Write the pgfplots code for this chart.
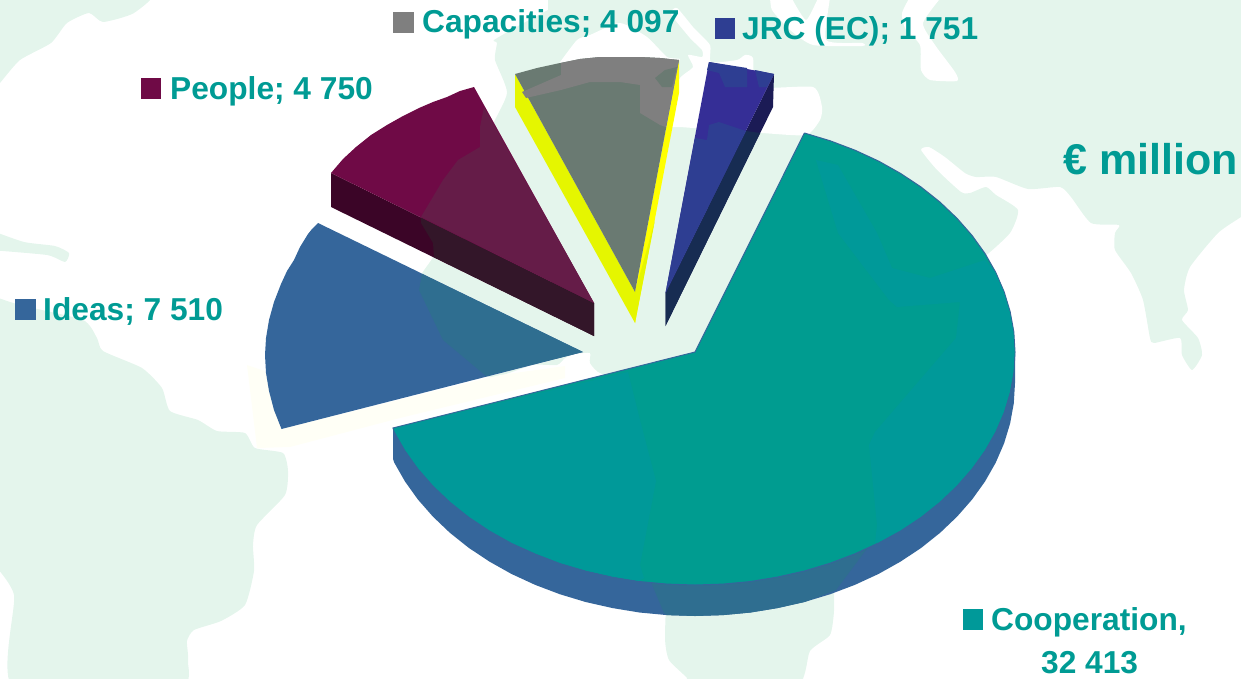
\documentclass[border=0pt]{standalone}
\usepackage{pgfplots}
\pgfplotsset{compat=1.18}
\usepackage{fontspec}
\setmainfont{Liberation Sans}
\definecolor{land}{HTML}{E4F5EC}
\definecolor{txt}{HTML}{009B94}
\definecolor{cream}{HTML}{FFFFF6}
\definecolor{teal}{HTML}{009C90}
\definecolor{tealsea}{HTML}{009999}
\definecolor{wallb}{HTML}{35669B}
\definecolor{walll}{HTML}{2F6E90}
\definecolor{mag}{HTML}{6F0A46}
\definecolor{magl}{HTML}{651C48}
\definecolor{magw}{HTML}{3B0527}
\definecolor{magwl}{HTML}{331629}
\definecolor{gry}{HTML}{7F7F7F}
\definecolor{gryl}{HTML}{6A7A72}
\definecolor{yel}{HTML}{E5F600}
\definecolor{yel2}{HTML}{FFFF00}
\definecolor{jrc}{HTML}{352E96}
\definecolor{jrcl}{HTML}{2E3E92}
\definecolor{jrcw}{HTML}{1B1B55}
\definecolor{jrcwl}{HTML}{172C52}
\pgfplotsset{
  poly/.style={fill=#1,draw=none,mark=none,forget plot,sharp plot},
  map/.style={fill=#1,draw=none,mark=none,forget plot,smooth,tension=0.35}
}
\tikzset{lab/.style={anchor=base west,inner sep=0pt,text=txt,font=\fontsize{31.7}{32}\selectfont\bfseries}}
\begin{document}
\begin{tikzpicture}
\begin{axis}[at={(0,0)},anchor=south west,scale only axis,width=1241pt,height=678pt,
  xmin=0,xmax=1241,ymin=0,ymax=678,y dir=reverse,hide axis]
% map
\addplot[map=land] coordinates {(548,0)(900,-10)(1251,-10)(1251,210)(1241,217)(1218,233)(1190,267)(1184,290)(1188,310)(1182,320)(1198,338)(1202,355)(1192,370)(1182,355)(1180,338)(1154,343)(1150,338)(1143,300)(1131,273)(1115,250)(1115,233)(1119,225)(1091,223)(1071,197)(1060,187)(1028,189)(996,177)(976,177)(965,173)(945,157)(929,147)(921,150)(937,170)(961,192)(970,193)(986,187)(996,195)(1018,210)(1010,233)(984,257)(960,270)(800,370)(650,380)(602,374)(590,363)(590,353)(575,354)(565,358)(557,365)(533,365)(500,376)(486,376)(455,350)(443,340)(419,283)(433,257)(460,200)(490,130)(507,93)(495,60)(497,43)(494,40)(520,25)(548,10)};
\addplot[map=white] coordinates {(680,127)(762,133)(806,135)(820,120)(822,107)(813,87)(757,87)(753,58)(745,55)(737,60)(711,62)(710,45)(693,27)(677,8)(671,14)(690,38)(702,50)(702,57)(688,55)(693,67)(680,78)(672,100)(665,127)};
\addplot[map=white] coordinates {(558,65)(577,40)(590,35)(620,23)(647,37)(667,57)(680,60)(640,80)(570,80)};
\addplot[map=white] coordinates {(911,-5)(902,13)(905,28)(920,45)(921,70)(930,80)(957,81)(955,72)(935,45)(923,23)(943,-5)};
\addplot[map=white] coordinates {(770,-5)(772,10)(790,30)(813,45)(862,46)(862,43)(826,40)(830,-5)(820,-5)(806,20)(790,-5)};
\addplot[map=land] coordinates {(-10,-10)(150,-10)(134,13)(103,22)(89,13)(67,23)(51,43)(20,60)(0,83)(-10,95)};
\addplot[map=land] coordinates {(-10,230)(24,242)(55,246)(69,253)(65,262)(47,255)(-10,250)};
\addplot[map=land] coordinates {(-10,295)(20,305)(83,320)(97,338)(103,351)(142,368)(162,388)(170,411)(198,420)(217,431)(245,433)(255,448)(283,453)(288,471)(285,495)(257,525)(253,545)(254,571)(245,605)(221,621)(194,630)(187,641)(188,661)(178,688)(14,688)(14,595)(-10,560)};
\addplot[map=land] coordinates {(667,580)(665,638)(669,660)(687,678)(690,688)(795,688)(810,651)(830,635)(834,611)(834,580)};
\addplot[poly=cream] coordinates {(247,365)(257,448)(290,447)(400,418)(565,378)(565,366)(500,375)(281,429)(265,371)};
% Ideas
\addplot[poly=wallb] coordinates {(318,223)(312,229)(308,234)(300,247)(294,260)(287,271)(281,284)(274,302)(269,320)(266,338)(265,355)(266,373)(269,391)(274,410)(281.5,429)(583,352)};
\addplot[poly=walll] coordinates {(422,274)(419,290)(443,340)(455,350)(486,376)(583,352)};
% People
\addplot[poly=magw] coordinates {(331,173)(331,207)(594,336)(594,303)};
\addplot[poly=magwl] coordinates {(421,217)(421,223)(433,243)(434,257)(594,336)(594,303)};
\addplot[poly=mag] coordinates {(331,173)(343,159)(356,147)(371,135)(387,125)(403,116)(419,108)(433,102)(447,97)(460,91)(474,87)(594,303)};
\addplot[poly=magl] coordinates {(484,107)(480,127)(480,147)(458,160)(443,180)(421,217)(594,303)};
% Capacities
\addplot[poly=yel] coordinates {(515,74)(515,107)(635,323)(635,292)};
\addplot[poly=yel2] coordinates {(679,60)(679,93)(635,323)(635,292)};
\addplot[poly=yel] coordinates {(655,220)(635,323)(635,292)};
\addplot[poly=gryl] coordinates {(515,74)(537,68)(560,63)(580,59)(600,57)(620,57)(640,57)(660,58)(679,60)(635,292)};
\addplot[poly=gry] coordinates {(561,63)(580,59)(600,57)(620,57)(640,57)(660,58)(679,60)(666,127)(660,125)(640,113)(640,85)(620,82)(590,82)(561,90)(526,98)(522,92)(561,75)};
\addplot[poly=gryl] coordinates {(655,78)(665,70)(677,67)(672,87)(662,87)};
% JRC
\addplot[poly=jrcw] coordinates {(774,74)(773,107)(665.5,326)(665.5,293)};
\addplot[poly=jrcwl] coordinates {(746,131)(760,133)(665.5,326)(665.5,293)};
\addplot[poly=jrc] coordinates {(709,62)(774,74)(665.5,293)};
\addplot[poly=jrcl] coordinates {(709,62)(747,68)(747,87)(725,87)(719,73)(707,70)};
\addplot[poly=jrcl] coordinates {(755,70)(759,87)(767,87)(774,74)};
\addplot[poly=jrcl] coordinates {(695,138)(707,140)(709,125)(719,122)(746,131)(665.5,293)};
% Cooperation
\addplot[poly=wallb] coordinates {(1015,352)(1015,383)(1013.8,403.3)(1010.1,423.5)(1004.1,443.3)(995.7,462.7)(985,481.5)(972.1,499.5)(957.1,516.6)(940.1,532.8)(921.3,547.8)(900.7,561.5)(878.6,573.9)(855,584.8)(830.2,594.2)(804.4,602)(777.8,608)(750.6,612.5)(722.9,615.1)(695,616)(667.1,615.1)(639.4,612.5)(612.2,608)(585.6,602)(559.8,594.2)(535,584.8)(511.4,573.9)(489.3,561.5)(468.7,547.8)(449.9,532.8)(432.9,516.6)(417.9,499.5)(405,481.5)(394.3,462.7)(393,459)(393,428)(695,400)};
\addplot[poly=walll] coordinates {(648,575)(664,613)(667.1,615.1)(695,616)(722.9,615.1)(750.6,612.5)(777.8,608)(804.4,602)(836,590)(869,546)(869,520)(648,560)};
\addplot[fill=teal,draw=wallb,line width=1pt,mark=none,forget plot,sharp plot] coordinates {(804.4,133)(830.2,140.8)(855,150.2)(878.6,161.1)(900.7,173.5)(921.3,187.2)(940.1,202.2)(957.1,218.4)(972.1,235.5)(985,253.5)(995.7,272.3)(1004.1,291.7)(1010.1,311.5)(1013.8,331.7)(1015,352)(1013.8,372.3)(1010.1,392.5)(1004.1,412.3)(995.7,431.7)(985,450.5)(972.1,468.5)(957.1,485.6)(940.1,501.8)(921.3,516.8)(900.7,530.5)(878.6,542.9)(855,553.8)(830.2,563.2)(804.4,571)(777.8,577)(750.6,581.5)(722.9,584.1)(695,585)(667.1,584.1)(639.4,581.5)(612.2,577)(585.6,571)(559.8,563.2)(535,553.8)(511.4,542.9)(489.3,530.5)(468.7,516.8)(449.9,501.8)(432.9,485.6)(417.9,468.5)(405,450.5)(394.3,431.7)(393,428)(695,352)(804.4,133)};
\addplot[poly=tealsea] coordinates {(816,160)(838,165)(858,200)(877,233)(892,268)(930,278)(985,260)(995.2,272.3)(1003.6,291.7)(1009.6,311.5)(1013.3,331.7)(1014.5,352)(1013.3,372.3)(1009.6,392.5)(1003.6,412.3)(995.2,431.7)(984.5,450.5)(971.6,468.5)(956.6,485.6)(939.6,501.8)(920.8,516.8)(900.2,530.5)(878.1,542.5)(875,543)(877,525)(869,445)(875,432)(956,338)(960,302)(897,307)(889,300)(838,233)(818,167)};
\addplot[poly=tealsea] coordinates {(394,428.5)(394.8,431.7)(405.5,450.5)(418.4,468.5)(433.4,485.6)(450.4,501.8)(469.2,516.8)(489.8,530.5)(511.9,542.9)(535.5,553.4)(560.3,563)(586.1,570.5)(612.7,576.6)(639.4,581)(644,578)(640,565)(656,481)(640,420)(628,372)};
% legend keys
\addplot[poly=gry] coordinates {(393,12)(414,12)(414,33)(393,33)};
\addplot[poly=mag] coordinates {(141,78)(161,78)(161,99)(141,99)};
\addplot[poly=wallb] coordinates {(15,299)(36,299)(36,320)(15,320)};
\addplot[poly=jrcl] coordinates {(715,18)(735,18)(735,39)(715,39)};
\addplot[poly=tealsea] coordinates {(963,609)(983,609)(983,630)(963,630)};
% labels
\node[lab] at (axis cs:422,32) {Capacities; 4 097};
\node[lab] at (axis cs:170,99) {People; 4 750};
\node[lab] at (axis cs:43,320) {Ideas; 7 510};
\node[lab] at (axis cs:742,39) {JRC (EC); 1 751};
\node[lab,font=\fontsize{43}{43}\selectfont\bfseries] at (axis cs:1063,174) {€ million};
\node[lab] at (axis cs:991,630) {Cooperation,};
\node[lab] at (axis cs:1041,673) {32 413};
\end{axis}
\end{tikzpicture}
\end{document}
